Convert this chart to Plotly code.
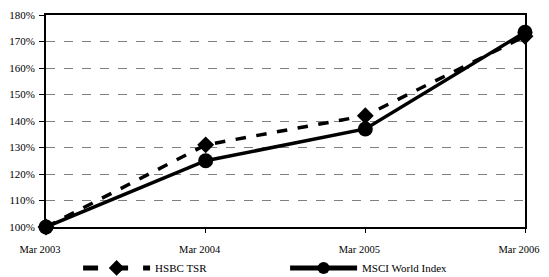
import plotly.graph_objects as go

periods = ["Mar 2003", "Mar 2004", "Mar 2005", "Mar 2006"]
hsbc_tsr = [100, 131, 142, 172]
msci_world = [100, 125, 137, 173.5]
y_ticks = [100, 110, 120, 130, 140, 150, 160, 170, 180]
y_tick_labels = [f"{v}%" for v in y_ticks]

x = list(range(len(periods)))
family = "Liberation Serif, Times New Roman, serif"
font = dict(family=family, size=11, color="black")

fig = go.Figure()
fig.add_trace(go.Scatter(
    x=x, y=hsbc_tsr, name="HSBC TSR", mode="lines+markers",
    line=dict(color="black", width=3.5, dash="dash"),
    marker=dict(symbol="diamond", size=13, color="black"),
    cliponaxis=False,
))
fig.add_trace(go.Scatter(
    x=x, y=msci_world, name="MSCI World Index", mode="lines+markers",
    line=dict(color="black", width=3.5),
    marker=dict(symbol="circle", size=15, color="black"),
    cliponaxis=False,
))

# page body has an 8px margin, so the figure is slightly smaller
fig.update_layout(
    width=541, height=269,
    margin=dict(l=38, r=24, t=7, b=50, autoexpand=False),
    paper_bgcolor="white", plot_bgcolor="white",
    font=font,
    showlegend=True,
    legend=dict(
        orientation="h", x=0.067, xanchor="left", y=-0.193, yanchor="middle",
        entrywidth=125, entrywidthmode="pixels", font=font,
        bgcolor="rgba(0,0,0,0)", itemwidth=67, itemsizing="constant",
    ),
    xaxis=dict(
        range=[0, 3], tickvals=x, ticktext=periods,
        tickfont=dict(family=family, size=10.5, color="black"),
        showline=True, linecolor="black", linewidth=2, mirror=True,
        ticks="outside", ticklen=4, tickcolor="black",
        showgrid=False, zeroline=False, ticklabelstandoff=7,
        ticklabelshift=-6,
    ),
    yaxis=dict(
        range=[100, 180], tickvals=y_ticks, ticktext=y_tick_labels,
        showline=True, linecolor="black", linewidth=2, mirror=True,
        ticks="outside", ticklen=5, tickcolor="black",
        showgrid=True, gridcolor="#808080", griddash="dash", gridwidth=1,
        zeroline=False, ticklabelstandoff=2,
    ),
)
fig.write_html("out.html")
